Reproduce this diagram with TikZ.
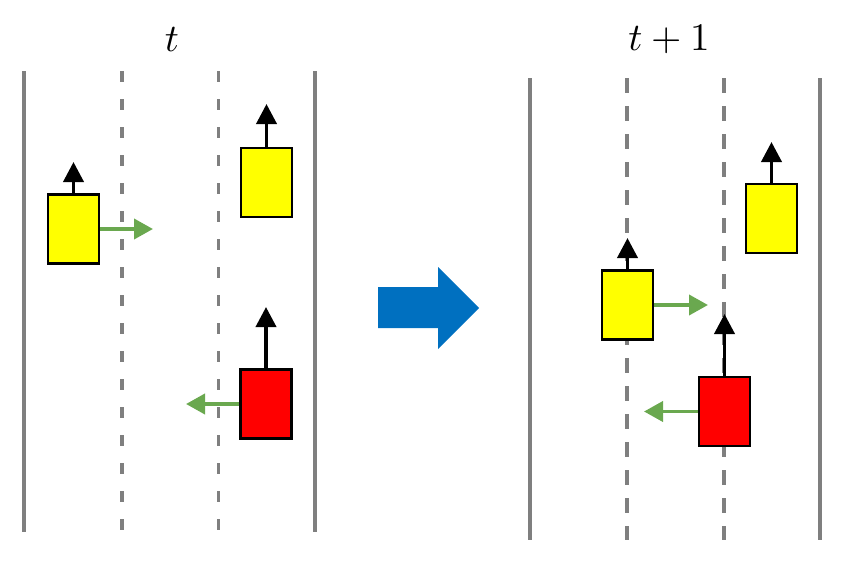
\documentclass[tikz,border=0pt]{standalone}
\usetikzlibrary{arrows.meta}
\definecolor{lanegray}{HTML}{7F7F7F}
\definecolor{movegreen}{HTML}{6AA84F}
\definecolor{stepblue}{HTML}{0070C0}
\definecolor{caryellow}{HTML}{FFFF00}
\definecolor{carred}{HTML}{FF0000}
\begin{document}
\begin{tikzpicture}[x=1pt,y=-1pt,
  lane/.style={draw=lanegray,line width=3.8pt},
  dlaneL/.style={lane,dash pattern=on 11pt off 17pt},
  dlaneR/.style={lane,dash pattern=on 15pt off 13pt},
  car/.style={draw=black,line width=2.4pt,minimum width=51pt,minimum height=69pt,inner sep=0pt},
  fwd/.style={draw=black,line width=3.8pt,-{Triangle[width=20pt,length=20pt]}},
  side/.style={draw=movegreen,line width=3.8pt,-{Triangle[width=20pt,length=19pt]}},
  lbl/.style={scale=3.9,inner sep=0pt}]
\useasboundingbox (0,0) rectangle (849,565);
% left road
\draw[lane] (24,71) -- (24,532);
\draw[lane] (315,71) -- (315,532);
\draw[dlaneL] (122,71) -- (122,532);
\draw[dlaneL] (218.5,71) -- (218.5,532);
% right road
\draw[lane] (530,78) -- (530,540);
\draw[lane] (820,78) -- (820,540);
\draw[dlaneR] (627,78) -- (627,540);
\draw[dlaneR] (724,78) -- (724,540);
% labels
\node[lbl] (tl) at (172,40) {$t$};
\node[lbl] (tr) at (669,40) {$t+1$};
% big arrow
\fill[stepblue] (378,287) -- (438,287) -- (438,267) -- (479,308) -- (438,349) -- (438,328) -- (378,328) -- cycle;
% cars at t
\node[car,fill=caryellow] (a1) at (73.5,229) {};
\node[car,fill=caryellow] (a2) at (266.5,182.5) {};
\node[car,fill=carred] (a3) at (266,404) {};
% cars at t+1
\node[car,fill=caryellow] (b1) at (627.5,305) {};
\node[car,fill=caryellow] (b2) at (771.5,218.5) {};
\node[car,fill=carred] (b3) at (724.5,411.5) {};
% arrow tips
\coordinate (a1f) at (73.5,162);
\coordinate (a2f) at (266.5,104);
\coordinate (a3f) at (266,307);
\coordinate (b1f) at (627.5,238);
\coordinate (b2f) at (771.5,142);
\coordinate (b3f) at (724.5,314);
\coordinate (a1s) at (153,229);
\coordinate (a3s) at (186,404);
\coordinate (b1s) at (708,305);
\coordinate (b3s) at (644,411.5);
\draw[fwd] (a1.north) -- (a1f);
\draw[fwd] (a2.north) -- (a2f);
\draw[fwd] (a3.north) -- (a3f);
\draw[fwd] (b1.north) -- (b1f);
\draw[fwd] (b2.north) -- (b2f);
\draw[fwd] (b3.north) -- (b3f);
\draw[side] (a1.east) -- (a1s);
\draw[side] (a3.west) -- (a3s);
\draw[side] (b1.east) -- (b1s);
\draw[side] (b3.west) -- (b3s);
\end{tikzpicture}
\end{document}
